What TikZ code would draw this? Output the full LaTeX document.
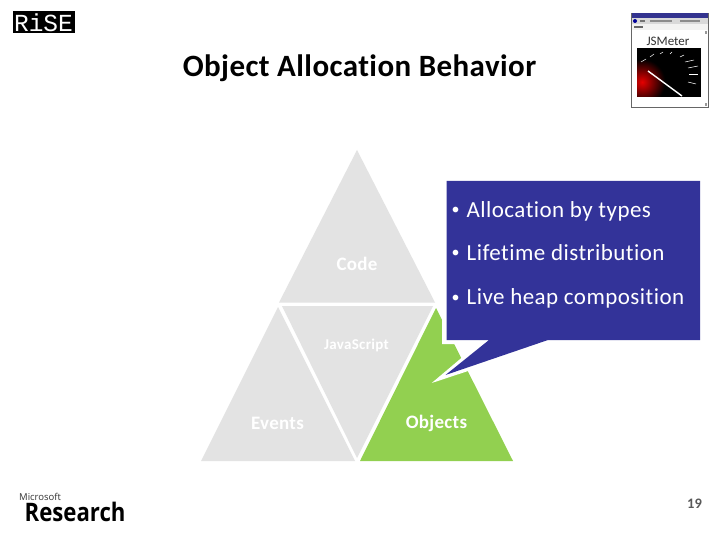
\documentclass[tikz,border=0pt]{standalone}
\usepackage{fontspec}
\setmainfont[Ligatures=NoCommon]{Carlito}
\newfontfamily\logosans{Open Sans}
\newfontfamily\logomono{Liberation Mono}
\definecolor{tri}{HTML}{E3E3E3}
\definecolor{grn}{HTML}{92D050}
\definecolor{blu}{HTML}{333399}
\newcommand{\smallbul}{\makebox[15pt][l]{\raisebox{2.5pt}{\fontsize{16}{16}\selectfont •}}}
\tikzset{
 x=1pt,y=-1pt,
 tritext/.style={font=\bfseries\fontsize{19}{20}\selectfont\addfontfeature{LetterSpace=1.5},text=white,inner sep=0pt,anchor=center},
 bullettext/.style={font=\fontsize{23}{24}\selectfont\addfontfeature{LetterSpace=2},text=white,inner sep=0pt,anchor=base west},
 thin frame/.style={draw=black!60,line width=0.6pt}
}
\begin{document}
\begin{tikzpicture}
\useasboundingbox (0,0) rectangle (720,540);
\fill[white] (0,0) rectangle (720,540);
% triangles
\fill[tri] (357,150) -- (435,302.5) -- (279,302.5) -- cycle;
\fill[tri] (278,307) -- (355,461) -- (201,461) -- cycle;
\fill[tri] (282,306) -- (433,306) -- (357,458) -- cycle;
\fill[grn] (436,308) -- (513,461) -- (360,461) -- cycle;
% callout
\fill[white] (442,177) -- (704,177) -- (704,344) -- (550,344) -- (431.7,383) -- (478,344) -- (442,344) -- cycle;
\fill[blu] (446.5,181) -- (700,181) -- (700,340) -- (548,340) -- (445.5,375) -- (489,340) -- (446.5,340) -- cycle;
% labels
\node[tritext] (code) at (357,263.5) {Code};
\node[tritext] (ev) at (277.5,423) {Events};
\node[tritext] (obj) at (436.5,423.5) {Objects};
\node[tritext,font=\bfseries\fontsize{15}{16}\selectfont\addfontfeature{LetterSpace=2}] (js) at (356.5,345) {JavaScript};
\node[bullettext] (b1) at (451.5,217.2) {\smallbul Allocation by types};
\node[bullettext] (b2) at (451.5,260.5) {\smallbul Lifetime distribution};
\node[bullettext] (b3) at (451.5,304.5) {\smallbul Live heap composition};
% title
\node[font=\bfseries\fontsize{31}{32}\selectfont\addfontfeature{LetterSpace=1.4},text=black,inner sep=0pt,anchor=base] (title) at (359.5,76.5) {Object Allocation Behavior};
\node[font=\bfseries\fontsize{14.5}{15}\selectfont,text=black!65,inner sep=0pt] (num) at (694.5,504) {19};
% RiSE logo
\fill[black] (12.5,11) rectangle (75,33.5);
\node[font=\logomono\fontsize{24.5}{25}\selectfont,text=white,inner sep=0pt,anchor=base] (rise) at (43.5,31.5) {RiSE};
% Microsoft Research logo
\node[font=\logosans\fontsize{9.5}{10}\selectfont,text=black!80,inner sep=0pt,anchor=base west] (ms) at (19,500) {Microsoft};
\node[font=\logosans\bfseries\fontsize{25.5}{26}\selectfont,text=black,inner sep=0pt,anchor=base west,xscale=0.87] (res) at (24.5,521.5) {Research};
% JSMeter thumbnail
\fill[white] (631,13) rectangle (708,107);
\draw[thin frame] (631.5,13.5) rectangle (708,107);
\fill[blue!45!black!80] (631.5,13.5) rectangle (708,18);
\fill[black!15] (631.5,18) rectangle (708,24);
\fill[yellow!10!black!6] (631.5,24) rectangle (708,30);
\fill[blue!60!black] (635,21) circle (2);
\fill[black!55] (640,20) rectangle (645,22);
\fill[black!45] (650,20) rectangle (672,22);
\fill[black!45] (680,20) rectangle (700,22);
\fill[black!60] (634,26) rectangle (643,28);
\fill[black!40] (704.5,31) rectangle (707,34);
\fill[black!40] (704.5,103) rectangle (707,106);
\node[font=\fontsize{13}{14}\selectfont,text=black!80,inner sep=0pt] (jsm) at (668,41) {JSMeter};
\fill[black] (637,48) rectangle (701,97);
\begin{scope}
\clip (637,48) rectangle (701,97);
\shade[inner color=red!90!black,outer color=black] (619,59) rectangle (665,105);
\end{scope}
\draw[white,line width=1.4pt] (648,71) -- (682,96);
\foreach \a/\b/\c/\d in {641/62/646/59,650/57/654/54,660/54/663/52,670/54/672/52,680/57/684/55,685/62/694/60,688/68/698/66,689/74/698/74,688/82/696/84}
  \draw[white,line width=0.5pt] (\a,\b) -- (\c,\d);
\end{tikzpicture}
\end{document}
